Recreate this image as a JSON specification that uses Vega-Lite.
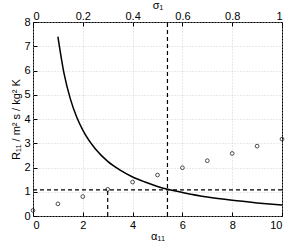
{
  "$schema": "https://vega.github.io/schema/vega-lite/v6.json",
  "autosize": "none",
  "width": 249,
  "height": 194,
  "padding": {"left": 33, "top": 22, "right": 8, "bottom": 27},
  "background": "white",
  "config": {
    "font": "Liberation Sans",
    "view": {"stroke": "black", "strokeWidth": 1},
    "axis": {
      "domain": false,
      "tickColor": "black",
      "tickSize": -4,
      "labelPadding": 7,
      "labelOverlap": false,
      "labelColor": "black",
      "labelFont": "Liberation Sans",
      "labelFontSize": 11,
      "titleFont": "Liberation Sans",
      "titleFontSize": 11,
      "titleFontWeight": "normal",
      "titleColor": "black",
      "gridColor": "#c8c8c8",
      "gridDash": [1, 2],
      "gridWidth": 0.8
    }
  },
  "datasets": {
    "pts": [
      {"a": 0, "r": 0.23}, {"a": 1, "r": 0.5}, {"a": 2, "r": 0.8}, {"a": 3, "r": 1.1},
      {"a": 4, "r": 1.4}, {"a": 5, "r": 1.69}, {"a": 6, "r": 1.99}, {"a": 7, "r": 2.28},
      {"a": 8, "r": 2.58}, {"a": 9, "r": 2.88}, {"a": 10, "r": 3.17}
    ],
    "curve": [
      {"a": 1, "r": 7.4}, {"a": 1.25, "r": 5.86}, {"a": 1.5, "r": 4.83}, {"a": 1.75, "r": 4.09},
      {"a": 2, "r": 3.54}, {"a": 2.5, "r": 2.77}, {"a": 3, "r": 2.25}, {"a": 3.5, "r": 1.89},
      {"a": 4, "r": 1.61}, {"a": 4.5, "r": 1.40}, {"a": 5, "r": 1.22}, {"a": 5.5, "r": 1.08},
      {"a": 6, "r": 0.97}, {"a": 7, "r": 0.78}, {"a": 8, "r": 0.645}, {"a": 9, "r": 0.54},
      {"a": 10, "r": 0.45}
    ],
    "segs": [
      {"x1": 0, "x2": 10, "y1": 1.08, "y2": 1.08},
      {"x1": 3, "x2": 3, "y1": 0, "y2": 1.08},
      {"x1": 5.4, "x2": 5.4, "y1": 0, "y2": 8}
    ],
    "top": [{"s": 0}, {"s": 1}]
  },
  "layer": [
    {
      "data": {"name": "segs"},
      "mark": {"type": "rule", "color": "black", "strokeDash": [4, 3], "strokeWidth": 1.2},
      "encoding": {
        "x": {"field": "x1", "type": "quantitative", "scale": {"domain": [0, 10], "nice": false},
          "axis": {"tickCount": 5, "title": "α₁₁", "grid": true, "titlePadding": 0}},
        "x2": {"field": "x2"},
        "y": {"field": "y1", "type": "quantitative", "scale": {"domain": [0, 8], "nice": false},
          "axis": {"tickCount": 8, "labelOverlap": false, "title": "R₁₁ / m² s / kg² K", "grid": true, "titlePadding": 2}},
        "y2": {"field": "y2"}
      }
    },
    {
      "data": {"name": "curve"},
      "mark": {"type": "line", "color": "black", "strokeWidth": 1.5, "interpolate": "monotone"},
      "encoding": {
        "x": {"field": "a", "type": "quantitative", "scale": {"domain": [0, 10], "nice": false}, "axis": null},
        "y": {"field": "r", "type": "quantitative"}
      }
    },
    {
      "data": {"name": "pts"},
      "mark": {"type": "point", "shape": "circle", "size": 14, "filled": false, "color": "black", "strokeWidth": 1, "clip": false},
      "encoding": {
        "x": {"field": "a", "type": "quantitative", "scale": {"domain": [0, 10], "nice": false}, "axis": null},
        "y": {"field": "r", "type": "quantitative"}
      }
    },
    {
      "data": {"name": "top"},
      "mark": {"type": "point", "opacity": 0},
      "encoding": {
        "x": {"field": "s", "type": "quantitative", "scale": {"domain": [0, 1], "nice": false},
          "axis": {"orient": "top", "tickCount": 5, "format": "~g", "title": "σ₁", "grid": false, "titlePadding": 0, "labelPadding": 5}}
      }
    }
  ],
  "resolve": {"scale": {"x": "independent"}, "axis": {"x": "independent"}}
}
